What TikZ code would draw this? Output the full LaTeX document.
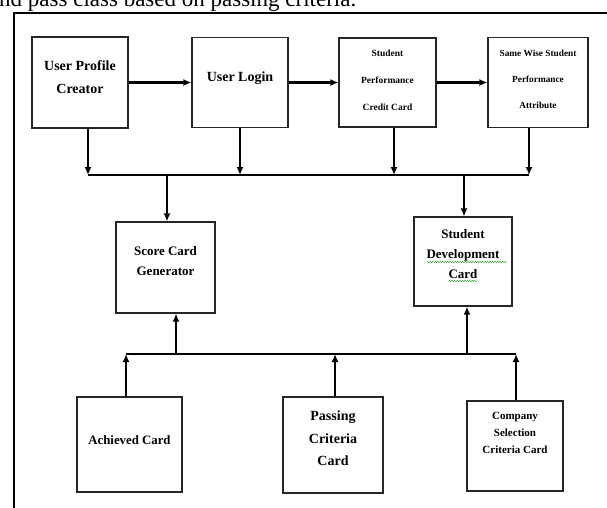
\documentclass[tikz,border=0pt]{standalone}
\usepackage{fontspec}
\setmainfont{Liberation Serif}
\usetikzlibrary{arrows.meta,decorations.pathmorphing}
\newcommand{\sink}[1]{\rule[-#1]{0pt}{#1}}

\begin{document}
\begin{tikzpicture}[x=1pt, y=-1pt,
    box/.style={draw=black!85, line width=1.2pt, align=center, inner sep=2pt},
    arr/.style={-{Latex[length=8pt,width=7pt]}, line width=2.5pt},
    bus/.style={line width=1.5pt},
    squig/.style={green!55!black, line width=0.4pt, decorate,
                  decoration={snake, amplitude=0.6pt, segment length=2.5pt}}]
  \useasboundingbox (0,0) rectangle (607,507);
  \node[anchor=base west, inner sep=0pt, font=\fontsize{23}{23}\selectfont] (cap) at (-1,6.5)
    {nd pass class based on passing criteria.};
  \draw[line width=1.8pt] (14,520) -- (14,13) -- (620,13);

  % top row
  \node[box, minimum width=96pt, minimum height=91pt, font=\fontsize{14}{23}\selectfont\bfseries]
    (upc) at (80,82.5) {User Profile\\Creator\sink{11pt}};
  \node[box, minimum width=96pt, minimum height=90pt, font=\fontsize{14}{23}\selectfont\bfseries]
    (ul) at (240,82.5) {User Login\sink{12pt}};
  \node[box, minimum width=97pt, minimum height=89pt, font=\fontsize{9.5}{27}\selectfont\bfseries]
    (spcc) at (387.5,82.5) {Student\\Performance\\Credit Card\sink{5pt}};
  \node[box, minimum width=100pt, minimum height=90pt, font=\fontsize{9.3}{26}\selectfont\bfseries]
    (swspa) at (538,82.5) {Same Wise Student\\Performance\\Attribute\sink{6pt}};

  % middle row
  \node[box, minimum width=99pt, minimum height=91pt, font=\fontsize{13}{20}\selectfont\bfseries]
    (scg) at (165.5,267.5) {Score Card\\Generator\sink{13pt}};
  \node[box, minimum width=98pt, minimum height=89pt, font=\fontsize{13}{20}\selectfont\bfseries]
    (sdc) at (463,261.5) {Student\\Development\\Card\sink{16pt}};

  % bottom row
  \node[box, minimum width=105pt, minimum height=95pt, font=\fontsize{12.8}{20}\selectfont\bfseries]
    (ac) at (129.5,444.5) {Achieved Card\sink{9pt}};
  \node[box, minimum width=100pt, minimum height=96pt, font=\fontsize{14}{22.5}\selectfont\bfseries]
    (pcc) at (333,445) {Passing\\Criteria\\Card\sink{13pt}};
  \node[box, minimum width=96pt, minimum height=90pt, font=\fontsize{11}{17}\selectfont\bfseries]
    (cscc) at (515,446) {Company\\Selection\\Criteria Card\sink{26pt}};

  \draw[squig] (427,262) -- (507,262);
  \draw[squig] (449,281) -- (478,281);

  \draw[arr] (upc) -- (ul);
  \draw[arr] (ul) -- (spcc);
  \draw[arr] (spcc) -- (swspa);

  % upper bus
  \coordinate (tb1) at (88,175);
  \coordinate (tb2) at (240,175);
  \coordinate (tb3) at (394,175);
  \coordinate (tb4) at (529,175);
  \coordinate (ts) at (167,175);
  \coordinate (td) at (464,175);
  \draw[bus] (tb1) -- (tb4);
  \draw[arr] (upc.south -| tb1) -- (tb1);
  \draw[arr] (ul.south -| tb2) -- (tb2);
  \draw[arr] (spcc.south -| tb3) -- (tb3);
  \draw[arr] (swspa.south -| tb4) -- (tb4);
  \draw[arr] (ts) -- (ts |- scg.north);
  \draw[arr] (td) -- (td |- sdc.north);

  % lower bus
  \coordinate (bb1) at (126,354);
  \coordinate (bb2) at (335,354);
  \coordinate (bb3) at (516,354);
  \coordinate (bs) at (176,354);
  \coordinate (bd) at (467,354);
  \draw[bus] (bb1) -- (bb3);
  \draw[arr] (ac.north -| bb1) -- (bb1);
  \draw[arr] (pcc.north -| bb2) -- (bb2);
  \draw[arr] (cscc.north -| bb3) -- (bb3);
  \draw[arr] (bs) -- (bs |- scg.south);
  \draw[arr] (bd) -- (bd |- sdc.south);
\end{tikzpicture}
\end{document}
